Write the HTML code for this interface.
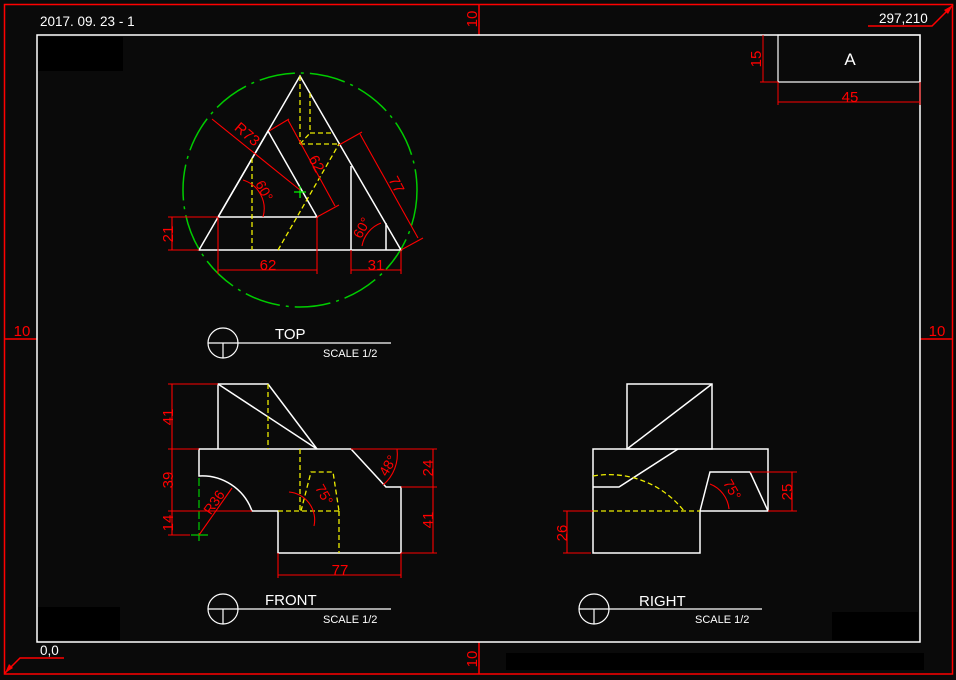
<!DOCTYPE html>
<html><head><meta charset="utf-8"><style>
html,body{margin:0;padding:0;background:#0a0a0a;}
svg{display:block;}
text{font-family:"Liberation Sans",sans-serif;}
</style></head><body>
<svg width="956" height="680" viewBox="0 0 956 680" xmlns="http://www.w3.org/2000/svg">
<rect width="956" height="680" fill="#0a0a0a"/>
<g fill="#000">
<rect x="38" y="37" width="85" height="34"/>
<rect x="38" y="607" width="82" height="33"/>
<rect x="506" y="653" width="418" height="17"/>
<rect x="832" y="612" width="86" height="28"/>
</g>
<g stroke="#f00" stroke-width="1.5" fill="none">
<rect x="4.5" y="4.5" width="948" height="669.5"/>
<line x1="479" y1="4" x2="479" y2="35"/>
<line x1="479" y1="642" x2="479" y2="674"/>
<line x1="5" y1="339" x2="37" y2="339"/>
<line x1="920" y1="339" x2="952" y2="339"/>
<polyline points="5,673 20,658 64,658"/>
<polyline points="953,5 932,26 868,26"/>
</g>
<polygon points="5,673 9,664 13,668" fill="#f00"/>
<polygon points="953,5 944,10 948,14" fill="#f00"/>
<g fill="#f00" font-size="15">
<text transform="translate(477,19) rotate(-90)" text-anchor="middle">10</text>
<text transform="translate(477,659) rotate(-90)" text-anchor="middle">10</text>
<text x="22" y="336" text-anchor="middle">10</text>
<text x="937" y="336" text-anchor="middle">10</text>
</g>
<g fill="#fff" font-size="13.5">
<text x="40" y="26">2017. 09. 23 - 1</text>
<text x="40" y="655">0,0</text>
<text x="879" y="23">297,210</text>
</g>
<rect x="37" y="35" width="883" height="607" fill="none" stroke="#fff" stroke-width="1.5"/>
<rect x="778" y="35" width="142" height="47" fill="none" stroke="#fff" stroke-width="1.2"/>
<text x="850" y="65" fill="#fff" font-size="17" text-anchor="middle">A</text>
<g stroke="#f00" stroke-width="1" fill="none">
<line x1="763" y1="35" x2="763" y2="82"/><line x1="760" y1="82" x2="778" y2="82"/>
<line x1="778" y1="102" x2="920" y2="102"/><line x1="778" y1="82" x2="778" y2="105"/><line x1="920" y1="82" x2="920" y2="105"/>
</g>
<g fill="#f00" font-size="15">
<text transform="translate(761,59) rotate(-90)" text-anchor="middle">15</text>
<text x="850" y="102" text-anchor="middle">45</text>
</g>

<!-- TOP VIEW -->
<circle cx="300" cy="190" r="117" fill="none" stroke="#0c0" stroke-width="1.5" stroke-dasharray="36,6,3,6"/>
<g stroke="#fff" stroke-width="1.5" fill="none">
<polygon points="300,76 199,250 401,250"/>
<polyline points="218,217 268,131 317,217 218,217"/>
<line x1="351" y1="166" x2="351" y2="250"/>
<line x1="386" y1="223" x2="386" y2="250"/>
</g>
<g stroke="#ee0" stroke-width="1.3" fill="none" stroke-dasharray="5,3">
<line x1="252" y1="158" x2="252" y2="250"/>
<line x1="278" y1="250" x2="339" y2="144"/>
<line x1="300" y1="76" x2="300" y2="144"/>
<line x1="310" y1="93" x2="310" y2="133"/>
<line x1="310" y1="133" x2="333" y2="133"/>
<line x1="300" y1="144" x2="339" y2="144"/>
<line x1="300" y1="144" x2="310" y2="133"/>
</g>
<g stroke="#0f0" stroke-width="1.2"><line x1="294" y1="192" x2="306" y2="192"/><line x1="300" y1="186" x2="300" y2="198"/></g>
<g stroke="#f00" stroke-width="1.1" fill="none">
<line x1="212" y1="119" x2="300" y2="190"/>
<line x1="288" y1="120" x2="335" y2="206"/><line x1="269" y1="131" x2="289" y2="119"/><line x1="317" y1="217" x2="339" y2="205"/>
<line x1="360" y1="134" x2="418" y2="238"/><line x1="339" y1="145" x2="362" y2="132"/><line x1="401" y1="250" x2="423" y2="238"/>
<line x1="168" y1="217" x2="218" y2="217"/><line x1="168" y1="250" x2="199" y2="250"/><line x1="172" y1="217" x2="172" y2="250"/>
<line x1="218" y1="217" x2="218" y2="274"/><line x1="317" y1="217" x2="317" y2="274"/><line x1="218" y1="270" x2="317" y2="270"/>
<line x1="351" y1="250" x2="351" y2="274"/><line x1="401" y1="250" x2="401" y2="274"/><line x1="351" y1="270" x2="401" y2="270"/>
<path d="M243,180 A30,30 0 0 1 263,217"/>
<path d="M362,246 A30,30 0 0 1 381,223"/>
</g>
<g fill="#f00" font-size="15">
<text transform="translate(244,138) rotate(40)" text-anchor="middle">R73</text>
<text transform="translate(312,166) rotate(62)" text-anchor="middle">62</text>
<text transform="translate(392,187) rotate(62)" text-anchor="middle">77</text>
<text transform="translate(260,193) rotate(62)" text-anchor="middle" font-size="14">60°</text>
<text transform="translate(366,230) rotate(-62)" text-anchor="middle" font-size="14">60°</text>
<text transform="translate(173,234) rotate(-90)" text-anchor="middle">21</text>
<text x="268" y="270" text-anchor="middle">62</text>
<text x="376" y="270" text-anchor="middle">31</text>
</g>

<g stroke="#fff" stroke-width="1.2" fill="none">
<circle cx="223" cy="343" r="15"/><line x1="208" y1="343" x2="391" y2="343"/><line x1="223" y1="343" x2="223" y2="358"/>
<circle cx="223" cy="609" r="15"/><line x1="208" y1="609" x2="391" y2="609"/><line x1="223" y1="609" x2="223" y2="624"/>
<circle cx="594" cy="609" r="15"/><line x1="579" y1="609" x2="762" y2="609"/><line x1="594" y1="609" x2="594" y2="624"/>
</g>
<g fill="#fff">
<text x="275" y="339" font-size="15">TOP</text><text x="323" y="357" font-size="11">SCALE 1/2</text>
<text x="265" y="605" font-size="15">FRONT</text><text x="323" y="623" font-size="11">SCALE 1/2</text>
<text x="639" y="606" font-size="15">RIGHT</text><text x="695" y="623" font-size="11">SCALE 1/2</text>
</g>

<!-- FRONT VIEW -->
<g stroke="#fff" stroke-width="1.5" fill="none">
<polyline points="218,449 218,384 268,384 317,449"/>
<line x1="218" y1="384" x2="317" y2="449"/>
<path d="M199,449 L351,449 L386,487 L401,487 L401,553 L278,553 L278,511 L252,511 A53,53 0 0 0 199,476 Z"/>
</g>
<g stroke="#ee0" stroke-width="1.3" fill="none" stroke-dasharray="5,3">
<line x1="268" y1="384" x2="268" y2="449"/>
<line x1="300" y1="449" x2="300" y2="511"/>
<polyline points="301,511 311,472 333,472 339,511"/>
<line x1="339" y1="511" x2="339" y2="553"/>
<line x1="278" y1="511" x2="339" y2="511"/>
</g>
<g stroke="#0c0" stroke-width="1.2"><line x1="199" y1="478" x2="199" y2="542" stroke-dasharray="8,3"/><line x1="191" y1="535" x2="208" y2="535"/></g>
<g stroke="#f00" stroke-width="1.1" fill="none">
<line x1="168" y1="384" x2="218" y2="384"/><line x1="168" y1="449" x2="199" y2="449"/><line x1="168" y1="511" x2="252" y2="511"/><line x1="168" y1="535" x2="190" y2="535"/>
<line x1="172" y1="384" x2="172" y2="535"/>
<line x1="199" y1="535" x2="232" y2="488"/>
<line x1="351" y1="449" x2="437" y2="449"/><line x1="401" y1="487" x2="437" y2="487"/><line x1="401" y1="553" x2="437" y2="553"/>
<line x1="433" y1="449" x2="433" y2="553"/>
<line x1="278" y1="553" x2="278" y2="578"/><line x1="401" y1="553" x2="401" y2="578"/><line x1="278" y1="575" x2="401" y2="575"/>
<path d="M383,485 A40,40 0 0 0 397,449"/>
<path d="M289,492 A28,28 0 0 1 314,526"/>
</g>
<g fill="#f00" font-size="15">
<text transform="translate(173,417) rotate(-90)" text-anchor="middle">41</text>
<text transform="translate(173,480) rotate(-90)" text-anchor="middle">39</text>
<text transform="translate(173,523) rotate(-90)" text-anchor="middle">14</text>
<text transform="translate(218,505) rotate(-55)" text-anchor="middle" font-size="14">R36</text>
<text transform="translate(392,468) rotate(-60)" text-anchor="middle" font-size="14">48°</text>
<text transform="translate(320,497) rotate(60)" text-anchor="middle" font-size="14">75°</text>
<text transform="translate(433,468) rotate(-90)" text-anchor="middle">24</text>
<text transform="translate(433,520) rotate(-90)" text-anchor="middle">41</text>
<text x="340" y="575" text-anchor="middle">77</text>
</g>

<!-- RIGHT VIEW -->
<g stroke="#fff" stroke-width="1.5" fill="none">
<rect x="627" y="384" width="85" height="65"/>
<line x1="627" y1="449" x2="712" y2="384"/>
<polygon points="593,449 768,449 768,511 700,511 700,553 593,553"/>
<polyline points="593,487 619,487 678,449"/>
<polyline points="700,511 710,472 750,472 768,511"/>
</g>
<g stroke="#ee0" stroke-width="1.3" fill="none" stroke-dasharray="5,3">
<line x1="593" y1="511" x2="700" y2="511"/>
<path d="M593,476 A95,95 0 0 1 684,511"/>
</g>
<g stroke="#f00" stroke-width="1.1" fill="none">
<line x1="750" y1="472" x2="797" y2="472"/><line x1="768" y1="511" x2="797" y2="511"/><line x1="792" y1="472" x2="792" y2="511"/>
<line x1="563" y1="511" x2="593" y2="511"/><line x1="563" y1="553" x2="591" y2="553"/><line x1="567" y1="511" x2="567" y2="553"/>
<path d="M710,484 A30,30 0 0 1 729,509"/>
</g>
<g fill="#f00" font-size="15">
<text transform="translate(792,492) rotate(-90)" text-anchor="middle">25</text>
<text transform="translate(567,533) rotate(-90)" text-anchor="middle">26</text>
<text transform="translate(728,492) rotate(60)" text-anchor="middle" font-size="14">75°</text>
</g>
</svg>
</body></html>
